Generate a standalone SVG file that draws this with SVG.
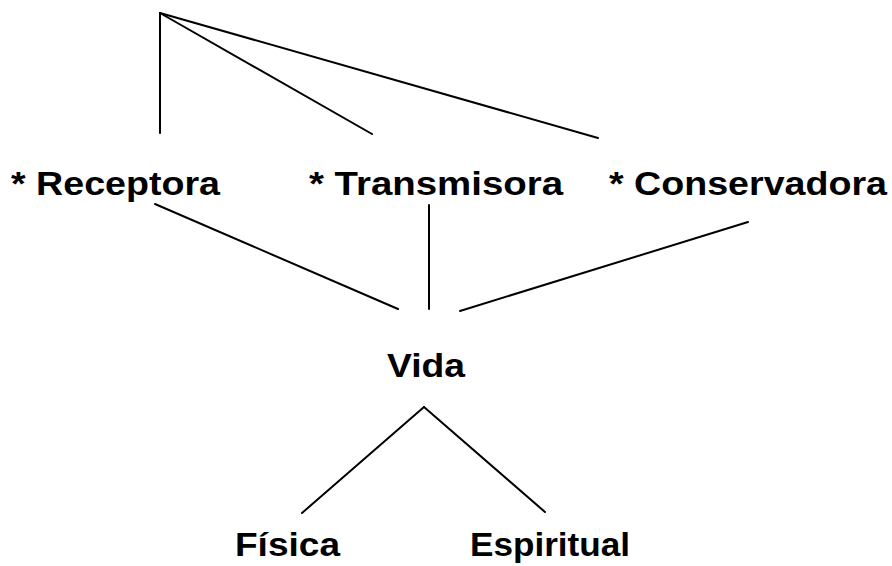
<svg xmlns="http://www.w3.org/2000/svg" width="892" height="566" viewBox="0 0 892 566">
<style>
.lbl{font-family:"Liberation Sans",Arial,sans-serif;font-weight:bold;font-size:33px;fill:#000}
.ln{stroke:#000;stroke-width:2;fill:none;stroke-linecap:round}
</style>
<rect width="892" height="566" fill="#fff"/>
<g id="connectors">
<line class="ln" x1="160" y1="13" x2="160" y2="133"/>
<line class="ln" x1="160" y1="13" x2="372" y2="134"/>
<line class="ln" x1="160" y1="13" x2="598" y2="138"/>
<line class="ln" x1="155" y1="204" x2="398" y2="309"/>
<line class="ln" x1="429" y1="205" x2="429" y2="309"/>
<line class="ln" x1="748" y1="222" x2="460" y2="311"/>
<line class="ln" x1="424" y1="407" x2="302" y2="513"/>
<line class="ln" x1="424" y1="407" x2="545" y2="512"/>
</g>
<g id="receptora"><text class="lbl" x="11" y="195" textLength="209" lengthAdjust="spacingAndGlyphs">* Receptora</text></g>
<g id="transmisora"><text class="lbl" x="309" y="195" textLength="254" lengthAdjust="spacingAndGlyphs">* Transmisora</text></g>
<g id="conservadora"><text class="lbl" x="609" y="195" textLength="278" lengthAdjust="spacingAndGlyphs">* Conservadora</text></g>
<g id="vida"><text class="lbl" x="387" y="377" textLength="78" lengthAdjust="spacingAndGlyphs">Vida</text></g>
<g id="fisica"><text class="lbl" x="235" y="556" textLength="105" lengthAdjust="spacingAndGlyphs">Física</text></g>
<g id="espiritual"><text class="lbl" x="470" y="556" textLength="160" lengthAdjust="spacingAndGlyphs">Espiritual</text></g>
</svg>
